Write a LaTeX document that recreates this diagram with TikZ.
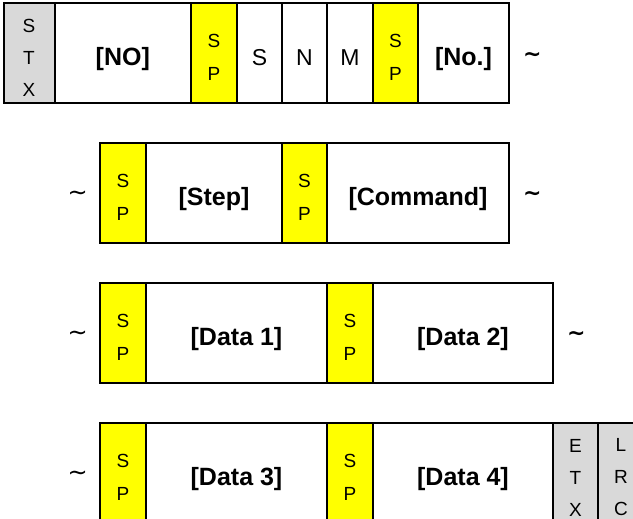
\documentclass[tikz,border=0pt]{standalone}
\usepackage{fontspec}
\setmainfont{Liberation Sans}
\newfontfamily\tildefont{DejaVu Sans}
\usepackage{xcolor}
\usetikzlibrary{positioning}
\definecolor{spyellow}{HTML}{FFFF00}
\definecolor{ctlgray}{HTML}{D9D9D9}
\newcommand{\topstrut}{\rule{0pt}{22pt}}

\begin{document}
\begin{tikzpicture}[x=1pt, y=-1pt, node distance=0pt]
    % Styles
    \tikzstyle{cell} = [rectangle, draw, line width=2pt, minimum height=100pt, inner sep=0pt, outer sep=0pt, align=center]
    \tikzstyle{spbox} = [cell, fill=spyellow, minimum width=46pt, font=\fontsize{19}{33}\selectfont]
    \tikzstyle{ctlbox} = [cell, fill=ctlgray, minimum width=46pt, font=\fontsize{19}{32}\selectfont]
    \tikzstyle{charbox} = [cell, fill=white, minimum width=45pt, text height=24pt, text depth=0pt, font=\fontsize{23}{24}\selectfont]
    \tikzstyle{field} = [cell, fill=white, text height=25pt, text depth=0pt, font=\bfseries\fontsize{25}{26}\selectfont]
    \tikzstyle{wave} = [inner sep=0pt, yshift=-3pt, font=\tildefont\bfseries\fontsize{22}{24}\selectfont]
    \tikzstyle{lwave} = [inner sep=0pt, yshift=-3pt, font=\tildefont\fontsize{24}{26}\selectfont]

    \clip (0,0) rectangle (633,519);

    % --- ROW 1: HEADER ---
    \node [ctlbox, minimum width=51pt] (stx) at (29,53.5) {\topstrut S\\T\\X};
    \node [field, minimum width=136.5pt, right=of stx] (no) {[NO]};
    \node [spbox, right=of no] (spa) {\topstrut S\\P};
    \node [charbox, right=of spa] (s) {S};
    \node [charbox, right=of s] (n) {N};
    \node [charbox, minimum width=46pt, right=of n] (m) {M};
    \node [spbox, minimum width=45pt, right=of m] (spb) {\topstrut S\\P};
    \node [field, minimum width=91pt, right=of spb] (num) {[No.]};
    \node [wave, right=14pt of num] (tila) {\textasciitilde};

    % --- ROW 2: STEP / COMMAND ---
    \node [spbox] (spc) at (123,192.7) {\topstrut S\\P};
    \node [lwave, left=12pt of spc] (tilb) {∼};
    \node [field, minimum width=136pt, right=of spc] (step) {[Step]};
    \node [spbox, minimum width=45pt, right=of step] (spd) {\topstrut S\\P};
    \node [field, minimum width=182pt, right=of spd] (cmd) {[Command]};
    \node [wave, right=14pt of cmd] (tilc) {\textasciitilde};

    % --- ROW 3: DATA 1 / DATA 2 ---
    \node [spbox] (spe) at (123,332.5) {\topstrut S\\P};
    \node [lwave, left=12pt of spe] (tild) {∼};
    \node [field, minimum width=181pt, right=of spe] (dat1) {[Data 1]};
    \node [spbox, right=of dat1] (spf) {\topstrut S\\P};
    \node [field, minimum width=180pt, right=of spf] (dat2) {[Data 2]};
    \node [wave, right=14pt of dat2] (tile) {\textasciitilde};

    % --- ROW 4: DATA 3 / DATA 4 / TRAILER ---
    \node [spbox] (spg) at (123,473) {\topstrut S\\P};
    \node [lwave, left=12pt of spg] (tilf) {∼};
    \node [field, minimum width=181pt, right=of spg] (dat3) {[Data 3]};
    \node [spbox, right=of dat3] (sph) {\topstrut S\\P};
    \node [field, minimum width=180pt, right=of sph] (dat4) {[Data 4]};
    \node [ctlbox, minimum width=45pt, right=of dat4] (etx) {\topstrut E\\T\\X};
    \node [ctlbox, right=of etx] (lrc) {\topstrut L\\R\\C};

\end{tikzpicture}
\end{document}
